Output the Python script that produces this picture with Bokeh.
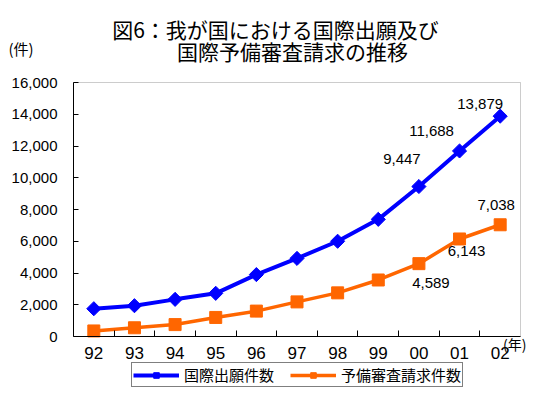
import math
from bokeh.plotting import figure
from bokeh.models import (Range1d, FixedTicker, NumeralTickFormatter, Label,
                          Legend, LegendItem, ColumnDataSource, BoxAnnotation)
from bokeh.core.properties import value
from bokeh.embed import file_html
from bokeh.resources import INLINE

# ---- data ----
years = ["92", "93", "94", "95", "96", "97", "98", "99", "00", "01", "02"]
intl_apps = [1750, 1940, 2340, 2720, 3900, 4920, 6000, 7380, 9447, 11688, 13879]
prelim_exam = [350, 550, 750, 1200, 1600, 2180, 2750, 3560, 4589, 6143, 7038]
y_ticks = [0, 2000, 4000, 6000, 8000, 10000, 12000, 14000, 16000]
title_lines = ["図6：我が国における国際出願及び", "国際予備審査請求の推移"]
series_names = ["国際出願件数", "予備審査請求件数"]
unit_y = "(件)"
unit_x = "(年)"

# which points carry data labels (index of year)
blue_label_idx = [8, 9, 10]
orange_label_idx = [8, 9, 10]
# label offsets (style, screen px)
blue_dx = [-17, -28, -20]
blue_dy = [-28, -20, -12]
orange_dx = [12, 7, -4]
orange_dy = [19, 12, -20]

# ---- layout constants (pixels) ----
JP = "Noto Sans CJK JP"
NUM = "Liberation Sans"
BLUE = "#0000FF"
ORANGE = "#FF6600"
W, H = 526, 388
PL, PR, PT, PB = 73, 520, 82, 336   # plot-area box in canvas pixels
Y_MAX = y_ticks[-1]

n = len(years)
xs = list(range(n))
ux = n / (PR - PL)                 # data units per pixel (x)
uy = Y_MAX / (PB - PT)             # data units per pixel (y)
x_start = -0.5 - PL * ux
x_end = -0.5 + (W - PL) * ux
y_start = -(H - PB) * uy
y_end = PB * uy

p = figure(width=W, height=H, output_backend="svg", toolbar_location=None,
           x_range=Range1d(x_start, x_end), y_range=Range1d(y_start, y_end),
           min_border=0, title=None)
p.background_fill_color = "white"
p.border_fill_color = "white"
p.outline_line_color = None
p.xgrid.visible = False
p.ygrid.visible = False

# plot-area border (top/right grey frame)
p.add_layout(BoxAnnotation(left=-0.5, right=n - 0.5, bottom=0, top=Y_MAX,
                           fill_alpha=0, line_color="#555555", line_width=1,
                           level="underlay"))

# axes
xa = p.xaxis[0]
xa.fixed_location = 0
xa.bounds = (-0.5, n - 0.5)
xa.ticker = FixedTicker(ticks=xs, minor_ticks=[i + 0.5 for i in xs[:-1]])
xa.major_label_overrides = {i: y for i, y in zip(xs, years)}
xa.major_tick_in = 0
xa.major_tick_out = 0
xa.minor_tick_in = 6
xa.minor_tick_out = 0
xa.minor_tick_line_color = "black"
xa.axis_line_color = "black"
xa.major_label_text_font = NUM
xa.major_label_text_font_size = "17px"
xa.major_label_text_color = "black"
xa.major_label_standoff = 10

ya = p.yaxis[0]
ya.fixed_location = -0.5
ya.bounds = (0, Y_MAX)
ya.ticker = FixedTicker(ticks=y_ticks)
ya.formatter = NumeralTickFormatter(format="0,0")
ya.major_tick_in = 5
ya.major_tick_out = 0
ya.minor_tick_in = 0
ya.minor_tick_out = 0
ya.axis_line_color = "black"
ya.major_tick_line_color = "black"
ya.major_label_text_font = NUM
ya.major_label_text_font_size = "15px"
ya.major_label_text_color = "black"
ya.major_label_standoff = 16

# series
l1 = p.line(xs, intl_apps, line_color=BLUE, line_width=4)
m1 = p.scatter(xs, intl_apps, marker="square", size=10, angle=math.pi / 4,
               fill_color=BLUE, line_color=BLUE)
l2 = p.line(xs, prelim_exam, line_color=ORANGE, line_width=3.5)
m2 = p.scatter(xs, prelim_exam, marker="square", size=12,
               fill_color=ORANGE, line_color=ORANGE)

# data labels
src_b = ColumnDataSource(dict(
    x=[xs[i] for i in blue_label_idx],
    y=[intl_apps[i] for i in blue_label_idx],
    t=["{:,}".format(intl_apps[i]) for i in blue_label_idx],
    dx=blue_dx, dy=blue_dy))
src_o = ColumnDataSource(dict(
    x=[xs[i] for i in orange_label_idx],
    y=[prelim_exam[i] for i in orange_label_idx],
    t=["{:,}".format(prelim_exam[i]) for i in orange_label_idx],
    dx=orange_dx, dy=orange_dy))
for s in (src_b, src_o):
    p.text(x="x", y="y", text="t", x_offset="dx", y_offset="dy", source=s,
           text_font=value(NUM), text_font_size="15px", text_color="black",
           text_align="center", text_baseline="middle")

# titles and units (screen px, measured from frame bottom-left)
def add_text(txt, px, py, size, align="center"):
    p.add_layout(Label(x=px, y=H - py, x_units="screen", y_units="screen",
                       text=txt, text_font=JP, text_font_size=size,
                       text_align=align, text_baseline="middle",
                       text_color="black"))

add_text(title_lines[0], 275, 28, "21px")
add_text(title_lines[1], 292, 50, "21px")
add_text(unit_y, 8, 48, "15px", "left")
add_text(unit_x, 526, 343, "14px", "right")

legend = Legend(items=[LegendItem(label=series_names[0], renderers=[l1, m1]),
                       LegendItem(label=series_names[1], renderers=[l2, m2])],
                location=(131, 1), orientation="horizontal",
                label_text_font=JP, label_text_font_size="15px",
                label_text_color="black", glyph_width=46, glyph_height=14,
                label_height=14, label_standoff=5, spacing=16, padding=1,
                margin=0, border_line_color="black", border_line_width=1,
                background_fill_color="white", background_fill_alpha=1)
p.add_layout(legend, "center")

open("out.html", "w").write(file_html(p, INLINE))
